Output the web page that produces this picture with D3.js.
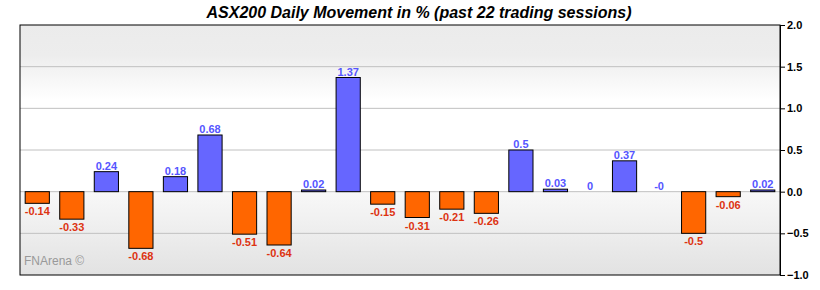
<!DOCTYPE html>
<html>
<head>
<meta charset="utf-8">
<script src="https://cdn.jsdelivr.net/npm/d3@7"></script>
<style>
  body { margin: 0; background: #fff; }
  text { font-family: "Liberation Sans", Arial, sans-serif; }
</style>
</head>
<body>
<script>
// ASX200 daily movement, past 22 sessions
var sessions = d3.range(1, 23);
var moves = [-0.14, -0.33, 0.24, -0.68, 0.18, 0.68, -0.51, -0.64, 0.02, 1.37,
             -0.15, -0.31, -0.21, -0.26, 0.5, 0.03, 0, 0.37, -0, -0.5, -0.06, 0.02];
var labels = ["-0.14", "-0.33", "0.24", "-0.68", "0.18", "0.68", "-0.51", "-0.64", "0.02", "1.37",
              "-0.15", "-0.31", "-0.21", "-0.26", "0.5", "0.03", "0", "0.37", "-0", "-0.5", "-0.06", "0.02"];
var yTicks = [-1, -0.5, 0, 0.5, 1, 1.5, 2];

var margin = {top: 25, right: 40, bottom: 15, left: 20},
    W = 820, H = 290,
    width = W - margin.left - margin.right,
    height = H - margin.top - margin.bottom;

var svg = d3.select("body").append("svg")
    .attr("width", W)
    .attr("height", H);

// background gradient
var defs = svg.append("defs");
var grad = defs.append("linearGradient")
    .attr("id", "bg").attr("x1", 0).attr("y1", 0).attr("x2", 0).attr("y2", 1);
grad.append("stop").attr("offset", "0%").attr("stop-color", "#ebebeb");
grad.append("stop").attr("offset", "12%").attr("stop-color", "#ededed");
grad.append("stop").attr("offset", "30%").attr("stop-color", "#ffffff");
grad.append("stop").attr("offset", "66.6%").attr("stop-color", "#ffffff");
grad.append("stop").attr("offset", "66.7%").attr("stop-color", "#f8f8f8");
grad.append("stop").attr("offset", "100%").attr("stop-color", "#e2e2e2");

var g = svg.append("g")
    .attr("transform", "translate(" + margin.left + "," + margin.top + ")");

var x = d3.scaleBand()
    .domain(sessions)
    .range([0, width])
    .paddingInner(0.3)
    .paddingOuter(0.15);

var y = d3.scaleLinear()
    .domain([-1, 2])
    .range([height, 0]);

g.append("rect")
    .attr("width", width)
    .attr("height", height)
    .attr("fill", "url(#bg)");

// grid
g.selectAll(".grid")
  .data(yTicks.filter(function(d) { return d > -1 && d < 2; }))
  .enter().append("line")
    .attr("x1", 0).attr("x2", width)
    .attr("y1", function(d) { return y(d); })
    .attr("y2", function(d) { return y(d); })
    .attr("stroke", "#c0c0c0")
    .attr("stroke-width", 1);

// watermark
g.append("text")
    .attr("x", 4)
    .attr("y", height - 10)
    .attr("fill", "#999")
    .style("font-size", "12px")
    .text("FNArena \u00a9");

// bars
g.selectAll(".bar")
  .data(moves)
  .enter().append("rect")
    .attr("x", function(d, i) { return x(sessions[i]); })
    .attr("y", function(d) { return y(Math.max(0, d)); })
    .attr("width", x.bandwidth())
    .attr("height", function(d) { return Math.abs(y(d) - y(0)); })
    .attr("fill", function(d) { return d >= 0 ? "#6666ff" : "#ff6600"; })
    .attr("stroke", "#000")
    .attr("stroke-width", 1)
    .style("display", function(d) { return d === 0 ? "none" : null; });

// value labels
g.selectAll(".lbl")
  .data(moves)
  .enter().append("text")
    .attr("x", function(d, i) { return x(sessions[i]) + x.bandwidth() / 2; })
    .attr("y", function(d) { return d >= 0 ? y(d) - 2 : y(d) + 12; })
    .attr("text-anchor", "middle")
    .attr("fill", function(d, i) { return d < 0 ? "#dd3311" : "#5555ff"; })
    .style("font-size", "11px")
    .style("font-weight", "bold")
    .text(function(d, i) { return labels[i]; });

// frame
g.append("rect")
    .attr("width", width)
    .attr("height", height)
    .attr("fill", "none")
    .attr("stroke", "#000")
    .attr("stroke-width", 1);

// right axis
var yAxis = g.append("g")
    .attr("transform", "translate(" + width + ",0)")
    .call(d3.axisRight(y).tickValues(yTicks).tickFormat(d3.format(".1f")).tickSize(5).tickSizeOuter(0));
yAxis.select(".domain").attr("stroke", "#000");
yAxis.selectAll("text")
    .style("font-size", "11px")
    .style("font-weight", "bold")
    .attr("fill", "#000")
    .attr("x", 7);

// title
svg.append("text")
    .attr("x", 419)
    .attr("y", 18)
    .attr("text-anchor", "middle")
    .style("font-size", "16px")
    .style("font-weight", "bold")
    .style("font-style", "italic")
    .text("ASX200 Daily Movement in % (past 22 trading sessions)");
</script>
</body>
</html>
